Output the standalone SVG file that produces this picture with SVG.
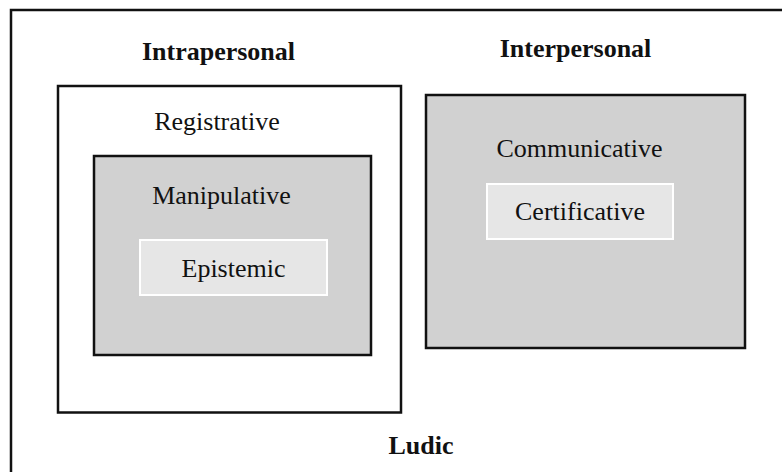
<svg xmlns="http://www.w3.org/2000/svg" width="782" height="472" viewBox="0 0 782 472">
<style>
text{font-family:"Liberation Serif","Times New Roman",serif;font-size:26px;text-anchor:middle;fill:#111}
.b{font-weight:bold}
.frame{fill:none;stroke:#111;stroke-width:2.5}
.white{fill:#fff;stroke:#111;stroke-width:2.5}
.grey{fill:#d1d1d1;stroke:#111;stroke-width:2.5}
.light{fill:#e6e6e6;stroke:#fff;stroke-width:2}
</style>
<rect width="782" height="472" fill="#fff"/>
<g id="ludic">
<rect class="frame" x="11" y="10" width="790" height="480"/>
<text class="b" x="421" y="454">Ludic</text>
</g>
<g id="intrapersonal">
<text class="b" x="218.5" y="60">Intrapersonal</text>
</g>
<g id="interpersonal">
<text class="b" x="575.5" y="56.5">Interpersonal</text>
</g>
<g id="registrative">
<rect class="white" x="58" y="86" width="343" height="326.5"/>
<text x="217" y="130">Registrative</text>
</g>
<g id="manipulative">
<rect class="grey" x="94" y="156" width="277" height="199"/>
<text x="221.5" y="204">Manipulative</text>
</g>
<g id="epistemic">
<rect class="light" x="140" y="240" width="187" height="55"/>
<text x="233.5" y="276.5">Epistemic</text>
</g>
<g id="communicative">
<rect class="grey" x="426" y="95" width="319" height="253"/>
<text x="579.5" y="156.5">Communicative</text>
</g>
<g id="certificative">
<rect class="light" x="487" y="184" width="186" height="55"/>
<text x="580" y="220">Certificative</text>
</g>
<g id="connectors"></g>
</svg>
